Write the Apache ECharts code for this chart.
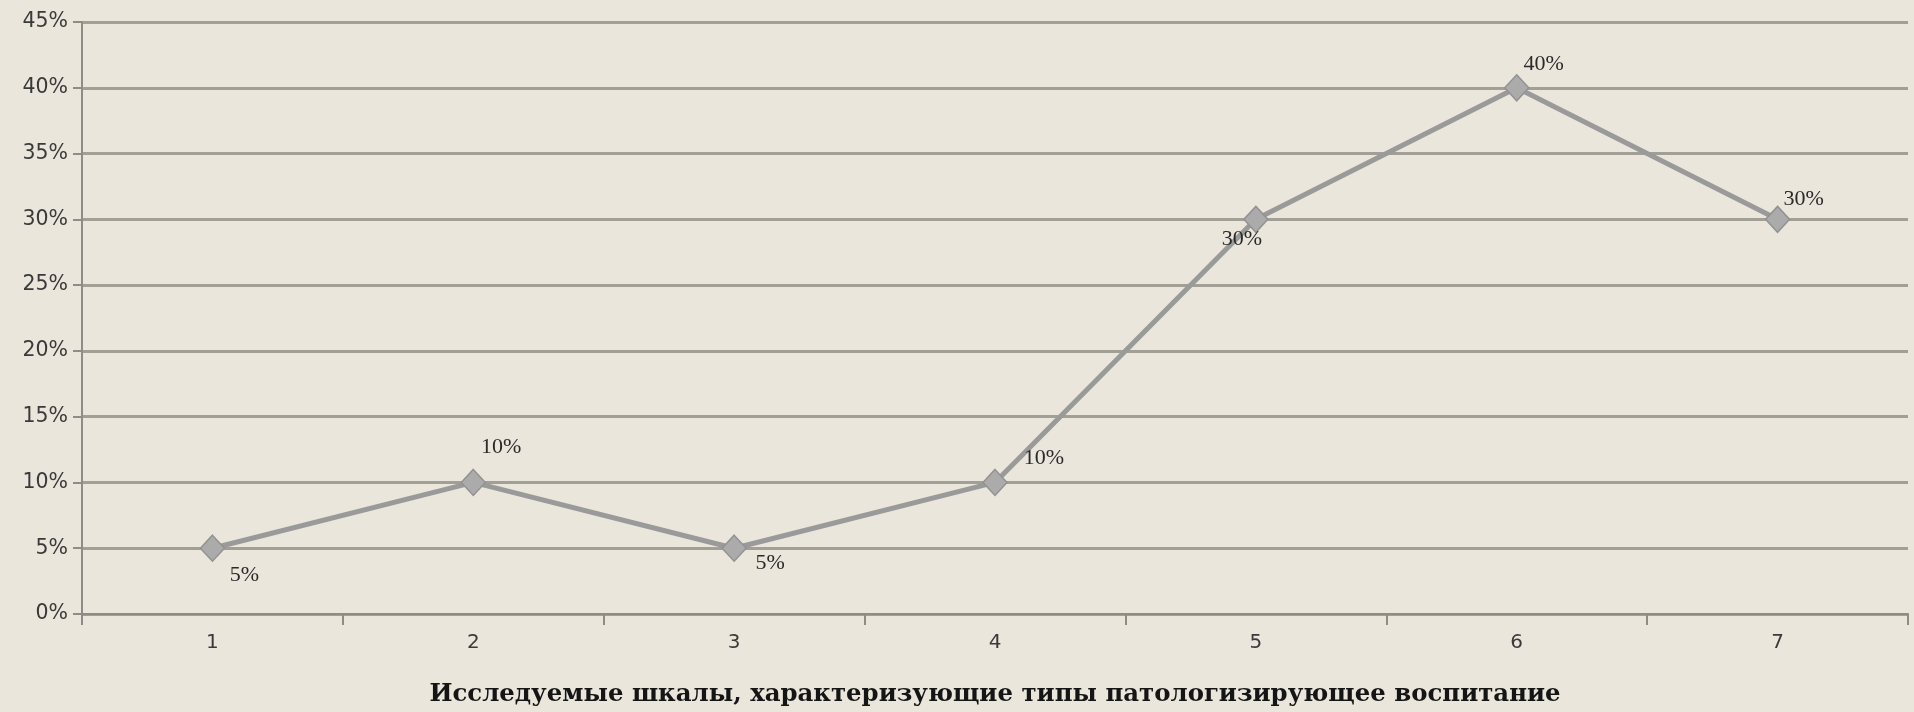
<!DOCTYPE html>
<html>
<head>
<meta charset="utf-8">
<script src="https://cdn.jsdelivr.net/npm/echarts@6/dist/echarts.min.js"></script>
<style>
  html, body { margin: 0; padding: 0; background: #EAE6DC; }
  #chart { width: 1914px; height: 712px; }
</style>
</head>
<body>
<div id="chart"></div>
<script>
// Scales under study (1..7) and the share for each, in percent
const categories = ['1', '2', '3', '4', '5', '6', '7'];
const shares = [5, 10, 5, 10, 30, 40, 30];
const axisTitle = 'Исследуемые шкалы, характеризующие типы патологизирующее воспитание';

// Where each value label sits relative to its marker (px)
const labelOffsets = [[32, 27], [28, -35], [36, 15], [49, -24], [-14, 20], [27, -24], [26, -20]];

const chart = echarts.init(document.getElementById('chart'), null, { renderer: 'canvas' });

const seriesData = shares.map((v, i) => ({
  value: v,
  label: { offset: labelOffsets[i] }
}));

chart.setOption({
  backgroundColor: '#EAE6DC',
  animation: false,
  grid: {
    left: 82, right: 6, top: 22, bottom: 98,
    containLabel: false,
    outerBoundsMode: 'none'
  },
  xAxis: {
    type: 'category',
    data: categories,
    boundaryGap: true,
    name: axisTitle,
    nameLocation: 'middle',
    nameGap: 69,
    nameTextStyle: {
      fontFamily: 'DejaVu Serif',
      fontWeight: 'bold',
      fontSize: 24.4,
      color: '#151515'
    },
    axisLine: { lineStyle: { color: '#8E8C86', width: 2 } },
    axisTick: { show: true, length: 11, lineStyle: { color: '#8E8C86', width: 2 } },
    axisLabel: {
      margin: 19,
      fontFamily: 'DejaVu Sans',
      fontSize: 20,
      color: '#3a3a3a'
    }
  },
  yAxis: {
    type: 'value',
    min: 0,
    max: 45,
    interval: 5,
    axisLine: { show: true, lineStyle: { color: '#8E8C86', width: 2 } },
    axisTick: { show: true, length: 9, lineStyle: { color: '#8E8C86', width: 2 } },
    axisLabel: {
      formatter: '{value}%',
      margin: 14,
      fontFamily: 'DejaVu Sans',
      fontSize: 20.5,
      color: '#3a3a3a'
    },
    splitLine: { show: true, lineStyle: { color: '#A29F96', width: 3 } }
  },
  series: [{
    type: 'line',
    data: seriesData,
    symbol: 'diamond',
    symbolSize: [24, 26],
    lineStyle: { color: '#9A9A9A', width: 5 },
    itemStyle: { color: '#ABABAB', borderColor: '#929292', borderWidth: 1.5 },
    label: {
      show: true,
      position: 'inside',
      formatter: '{c}%',
      fontFamily: 'Liberation Serif',
      fontSize: 22,
      color: '#2a2a2a'
    },
    z: 3
  }]
});
</script>
</body>
</html>
